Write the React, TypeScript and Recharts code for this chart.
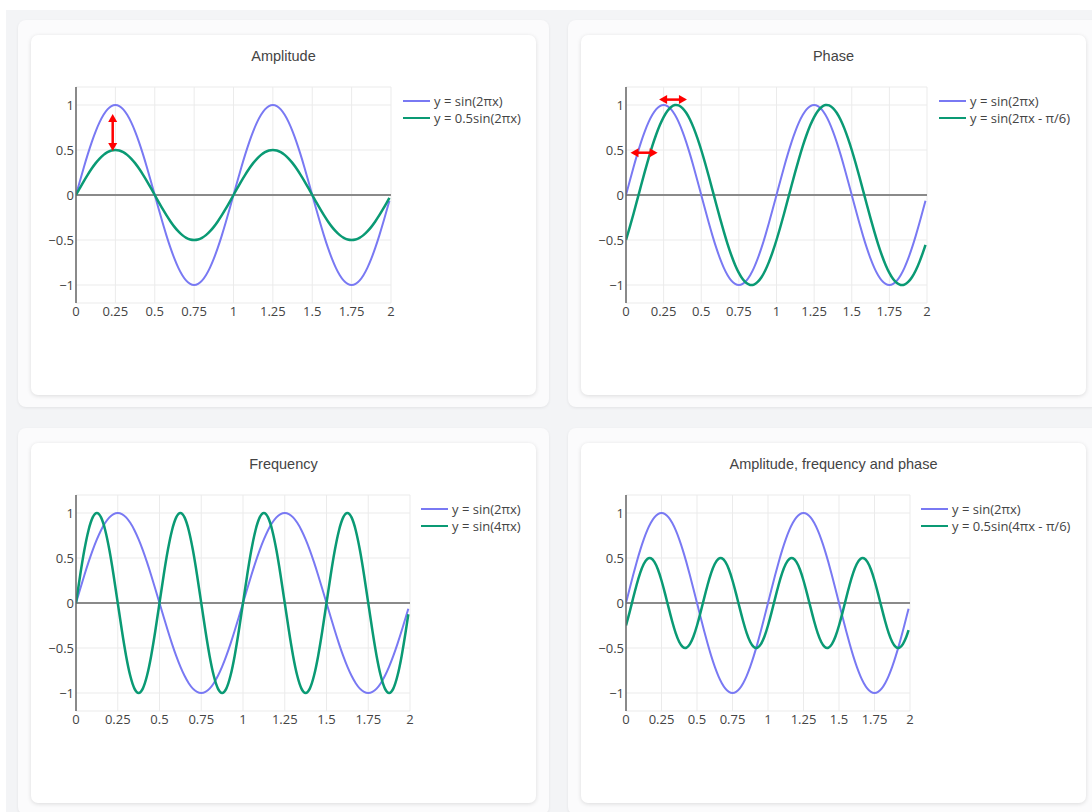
import { useMemo } from 'react';
import {
  LineChart,
  Line,
  XAxis,
  YAxis,
  CartesianGrid,
  ReferenceLine,
  Legend,
} from 'recharts';

// Shared x samples for every panel
const X_VALUES = [
  0, 0.025, 0.05, 0.075, 0.1, 0.125, 0.15, 0.175, 0.2, 0.225,
  0.25, 0.275, 0.3, 0.325, 0.35, 0.375, 0.4, 0.425, 0.45, 0.475,
  0.5, 0.525, 0.55, 0.575, 0.6, 0.625, 0.65, 0.675, 0.7, 0.725,
  0.75, 0.775, 0.8, 0.825, 0.85, 0.875, 0.9, 0.925, 0.95, 0.975,
  1, 1.025, 1.05, 1.075, 1.1, 1.125, 1.15, 1.175, 1.2, 1.225,
  1.25, 1.275, 1.3, 1.325, 1.35, 1.375, 1.4, 1.425, 1.45, 1.475,
  1.5, 1.525, 1.55, 1.575, 1.6, 1.625, 1.65, 1.675, 1.7, 1.725,
  1.75, 1.775, 1.8, 1.825, 1.85, 1.875, 1.9, 1.925, 1.95, 1.975,
  1.99,
];

// y = sin(2πx)
const SIN_2PIX = [
  0, 0.156, 0.309, 0.454, 0.588, 0.707, 0.809, 0.891, 0.951, 0.988,
  1, 0.988, 0.951, 0.891, 0.809, 0.707, 0.588, 0.454, 0.309, 0.156,
  0, -0.156, -0.309, -0.454, -0.588, -0.707, -0.809, -0.891, -0.951, -0.988,
  -1, -0.988, -0.951, -0.891, -0.809, -0.707, -0.588, -0.454, -0.309, -0.156,
  0, 0.156, 0.309, 0.454, 0.588, 0.707, 0.809, 0.891, 0.951, 0.988,
  1, 0.988, 0.951, 0.891, 0.809, 0.707, 0.588, 0.454, 0.309, 0.156,
  0, -0.156, -0.309, -0.454, -0.588, -0.707, -0.809, -0.891, -0.951, -0.988,
  -1, -0.988, -0.951, -0.891, -0.809, -0.707, -0.588, -0.454, -0.309, -0.156,
  -0.063,
];

// y = 0.5sin(2πx)
const HALF_SIN_2PIX = [
  0, 0.078, 0.155, 0.227, 0.294, 0.354, 0.405, 0.446, 0.476, 0.494,
  0.5, 0.494, 0.476, 0.446, 0.405, 0.354, 0.294, 0.227, 0.155, 0.078,
  0, -0.078, -0.155, -0.227, -0.294, -0.354, -0.405, -0.446, -0.476, -0.494,
  -0.5, -0.494, -0.476, -0.446, -0.405, -0.354, -0.294, -0.227, -0.155, -0.078,
  0, 0.078, 0.155, 0.227, 0.294, 0.354, 0.405, 0.446, 0.476, 0.494,
  0.5, 0.494, 0.476, 0.446, 0.405, 0.354, 0.294, 0.227, 0.155, 0.078,
  0, -0.078, -0.155, -0.227, -0.294, -0.354, -0.405, -0.446, -0.476, -0.494,
  -0.5, -0.494, -0.476, -0.446, -0.405, -0.354, -0.294, -0.227, -0.155, -0.078,
  -0.031,
];

// y = sin(2πx - π/6)
const SIN_2PIX_SHIFT = [
  -0.5, -0.358, -0.208, -0.052, 0.105, 0.259, 0.407, 0.545, 0.669, 0.777,
  0.866, 0.934, 0.978, 0.999, 0.995, 0.966, 0.914, 0.839, 0.743, 0.629,
  0.5, 0.358, 0.208, 0.052, -0.105, -0.259, -0.407, -0.545, -0.669, -0.777,
  -0.866, -0.934, -0.978, -0.999, -0.995, -0.966, -0.914, -0.839, -0.743, -0.629,
  -0.5, -0.358, -0.208, -0.052, 0.105, 0.259, 0.407, 0.545, 0.669, 0.777,
  0.866, 0.934, 0.978, 0.999, 0.995, 0.966, 0.914, 0.839, 0.743, 0.629,
  0.5, 0.358, 0.208, 0.052, -0.105, -0.259, -0.407, -0.545, -0.669, -0.777,
  -0.866, -0.934, -0.978, -0.999, -0.995, -0.966, -0.914, -0.839, -0.743, -0.629,
  -0.553,
];

// y = sin(4πx)
const SIN_4PIX = [
  0, 0.309, 0.588, 0.809, 0.951, 1, 0.951, 0.809, 0.588, 0.309,
  0, -0.309, -0.588, -0.809, -0.951, -1, -0.951, -0.809, -0.588, -0.309,
  0, 0.309, 0.588, 0.809, 0.951, 1, 0.951, 0.809, 0.588, 0.309,
  0, -0.309, -0.588, -0.809, -0.951, -1, -0.951, -0.809, -0.588, -0.309,
  0, 0.309, 0.588, 0.809, 0.951, 1, 0.951, 0.809, 0.588, 0.309,
  0, -0.309, -0.588, -0.809, -0.951, -1, -0.951, -0.809, -0.588, -0.309,
  0, 0.309, 0.588, 0.809, 0.951, 1, 0.951, 0.809, 0.588, 0.309,
  0, -0.309, -0.588, -0.809, -0.951, -1, -0.951, -0.809, -0.588, -0.309,
  -0.125,
];

// y = 0.5sin(4πx - π/6)
const HALF_SIN_4PIX_SHIFT = [
  -0.25, -0.104, 0.052, 0.203, 0.335, 0.433, 0.489, 0.497, 0.457, 0.372,
  0.25, 0.104, -0.052, -0.203, -0.335, -0.433, -0.489, -0.497, -0.457, -0.372,
  -0.25, -0.104, 0.052, 0.203, 0.335, 0.433, 0.489, 0.497, 0.457, 0.372,
  0.25, 0.104, -0.052, -0.203, -0.335, -0.433, -0.489, -0.497, -0.457, -0.372,
  -0.25, -0.104, 0.052, 0.203, 0.335, 0.433, 0.489, 0.497, 0.457, 0.372,
  0.25, 0.104, -0.052, -0.203, -0.335, -0.433, -0.489, -0.497, -0.457, -0.372,
  -0.25, -0.104, 0.052, 0.203, 0.335, 0.433, 0.489, 0.497, 0.457, 0.372,
  0.25, 0.104, -0.052, -0.203, -0.335, -0.433, -0.489, -0.497, -0.457, -0.372,
  -0.302,
];

const X_TICKS = [0, 0.25, 0.5, 0.75, 1, 1.25, 1.5, 1.75, 2];
const Y_TICKS = [-1, -0.5, 0, 0.5, 1];
const Y_TICK_LABELS = ['−1', '−0.5', '0', '0.5', '1'];

// Red annotation arrows, in data coordinates
const AMPLITUDE_ARROWS = [
  [{ x: 0.233, y: 0.9 }, { x: 0.233, y: 0.49 }],
];
const PHASE_ARROWS = [
  [{ x: 0.22, y: 1.06 }, { x: 0.405, y: 1.06 }],
  [{ x: 0.03, y: 0.47 }, { x: 0.21, y: 0.47 }],
];

const BLUE = '#7979f3';
const GREEN = '#0a9a74';
const TEXT = '#444';
const FONT = '"Open Sans", sans-serif';

interface Series {
  key: string;
  name: string;
  color: string;
  width: number;
  values: number[];
}

const BASE_SERIES: Series = { key: 'base', name: 'y = sin(2πx)', color: BLUE, width: 2, values: SIN_2PIX };

const CARD_W = 505;
const CARD_H = 360;
const CHART_H = 300;
const PLOT_TOP = 52;
const PLOT_H = 216;
const AXIS_W = 40;
const XAXIS_H = 20;

function DoubleArrow(props: any) {
  const { x1, y1, x2, y2 } = props;
  const dx = x2 - x1;
  const dy = y2 - y1;
  const len = Math.hypot(dx, dy) || 1;
  const ux = dx / len;
  const uy = dy / len;
  const head = 8;
  const half = 4.5;
  const px = -uy * half;
  const py = ux * half;
  const tip = (tx: number, ty: number, dir: number) => {
    const bx = tx - dir * ux * head;
    const by = ty - dir * uy * head;
    return `${tx},${ty} ${bx + px},${by + py} ${bx - px},${by - py}`;
  };
  return (
    <g>
      <line
        x1={x1 + ux * head * 0.7}
        y1={y1 + uy * head * 0.7}
        x2={x2 - ux * head * 0.7}
        y2={y2 - uy * head * 0.7}
        stroke="#ff0000"
        strokeWidth={2.5}
      />
      <polygon points={tip(x2, y2, 1)} fill="#ff0000" />
      <polygon points={tip(x1, y1, -1)} fill="#ff0000" />
    </g>
  );
}

interface PanelProps {
  title: string;
  left: number;
  top: number;
  series: Series[];
  plotRight: number;
  legendLeft: number;
  arrows?: { x: number; y: number }[][];
}

function WavePanel({ title, left, top, series, plotRight, legendLeft, arrows = [] }: PanelProps) {
  const data = useMemo(
    () =>
      X_VALUES.map((x, i) => {
        const row: Record<string, number> = { x };
        for (const s of series) row[s.key] = s.values[i];
        return row;
      }),
    [series]
  );

  const renderLegend = () => (
    <div style={{ fontFamily: FONT, fontSize: 13, color: TEXT }}>
      {series.map((s) => (
        <div key={s.key} style={{ display: 'flex', alignItems: 'center', height: 17 }}>
          <span
            style={{
              display: 'inline-block',
              width: 27,
              height: 0,
              borderTop: `${s.width}px solid ${s.color}`,
              marginRight: 4,
            }}
          />
          <span style={{ whiteSpace: 'nowrap' }}>{s.name}</span>
        </div>
      ))}
    </div>
  );

  return (
    <div
      style={{
        position: 'absolute',
        left,
        top,
        width: 531,
        height: 387,
        background: '#fbfbfc',
        borderRadius: 8,
        boxShadow: '0 1px 3px rgba(0,0,0,0.07)',
      }}
    >
      <div
        style={{
          position: 'absolute',
          left: 13,
          top: 15,
          width: CARD_W,
          height: CARD_H,
          background: '#fff',
          borderRadius: 7,
          boxShadow: '0 1px 4px rgba(0,0,0,0.13)',
        }}
      >
        <div
          style={{
            position: 'absolute',
            top: 11,
            left: 0,
            width: CARD_W,
            textAlign: 'center',
            fontFamily: 'Arial, "Liberation Sans", sans-serif',
            fontSize: 14.5,
            lineHeight: '20px',
            color: TEXT,
          }}
        >
          {title}
        </div>
        <LineChart
          width={CARD_W}
          height={CHART_H}
          data={data}
          margin={{
            top: PLOT_TOP,
            right: CARD_W - plotRight,
            bottom: CHART_H - PLOT_TOP - PLOT_H - XAXIS_H,
            left: 45 - AXIS_W,
          }}
        >
          <CartesianGrid stroke="#ebebeb" strokeWidth={1} />
          <XAxis
            dataKey="x"
            type="number"
            domain={[0, 2]}
            ticks={X_TICKS}
            allowDataOverflow
            axisLine={false}
            tickLine={false}
            tickSize={0}
            tickMargin={4}
            height={XAXIS_H}
            tick={{ fontSize: 13, fill: TEXT, fontFamily: FONT }}
          />
          <YAxis
            type="number"
            domain={[-1.2, 1.2]}
            ticks={Y_TICKS}
            allowDataOverflow
            tickFormatter={(v) => Y_TICK_LABELS[Y_TICKS.indexOf(v)] ?? String(v)}
            width={AXIS_W}
            axisLine={{ stroke: '#666', strokeWidth: 1.5 }}
            tickLine={false}
            tickSize={0}
            tickMargin={2}
            tick={{ fontSize: 13, fill: TEXT, fontFamily: FONT }}
          />
          <ReferenceLine y={0} stroke="#8a8a8a" strokeWidth={2} />
          <Legend
            layout="vertical"
            align="center"
            verticalAlign="middle"
            wrapperStyle={{ left: legendLeft, top: 57, width: 'auto' }}
            content={renderLegend}
          />
          {series.map((s) => (
            <Line
              key={s.key}
              type="natural"
              dataKey={s.key}
              name={s.name}
              stroke={s.color}
              strokeWidth={s.width}
              dot={false}
              activeDot={false}
              isAnimationActive={false}
            />
          ))}
          {arrows.map((seg, i) => (
            <ReferenceLine key={i} segment={seg} shape={DoubleArrow} ifOverflow="visible" />
          ))}
        </LineChart>
      </div>
    </div>
  );
}

export default function App() {
  return (
    <div
      style={{
        position: 'fixed',
        left: 0,
        top: 0,
        width: 1092,
        height: 812,
        overflow: 'hidden',
        background: '#fff',
      }}
    >
      <div
        style={{
          position: 'absolute',
          left: 6,
          top: 10,
          width: 1200,
          height: 900,
          background: '#f3f4f6',
        }}
      >
        <WavePanel
          title="Amplitude"
          left={12}
          top={10}
          plotRight={360}
          legendLeft={372}
          arrows={AMPLITUDE_ARROWS}
          series={[
            BASE_SERIES,
            { key: 'wave', name: 'y = 0.5sin(2πx)', color: GREEN, width: 2.5, values: HALF_SIN_2PIX },
          ]}
        />
        <WavePanel
          title="Phase"
          left={562}
          top={10}
          plotRight={346}
          legendLeft={358}
          arrows={PHASE_ARROWS}
          series={[
            BASE_SERIES,
            { key: 'wave', name: 'y = sin(2πx - π/6)', color: GREEN, width: 2.5, values: SIN_2PIX_SHIFT },
          ]}
        />
        <WavePanel
          title="Frequency"
          left={12}
          top={418}
          plotRight={379}
          legendLeft={390}
          series={[
            BASE_SERIES,
            { key: 'wave', name: 'y = sin(4πx)', color: GREEN, width: 2.5, values: SIN_4PIX },
          ]}
        />
        <WavePanel
          title="Amplitude, frequency and phase"
          left={562}
          top={418}
          plotRight={329}
          legendLeft={340}
          series={[
            BASE_SERIES,
            { key: 'wave', name: 'y = 0.5sin(4πx - π/6)', color: GREEN, width: 2.5, values: HALF_SIN_4PIX_SHIFT },
          ]}
        />
      </div>
    </div>
  );
}
